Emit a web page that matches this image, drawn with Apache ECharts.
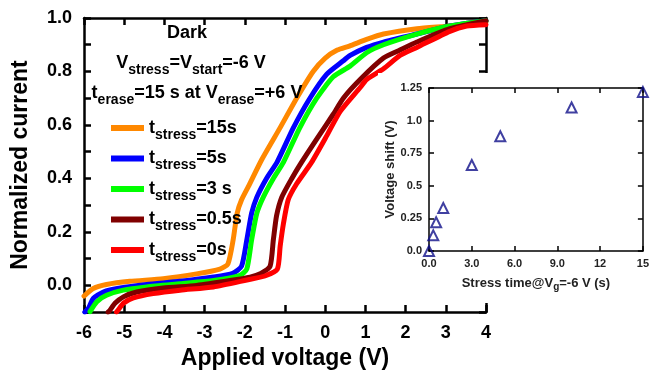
<!DOCTYPE html>
<html><head><meta charset="utf-8">
<script src="https://cdn.jsdelivr.net/npm/echarts@6/dist/echarts.min.js"></script>
<style>html,body{margin:0;padding:0;background:#fff}#c{width:652px;height:375px}</style>
</head><body><div id="c"></div>
<script>
// ---- data ----
const stressLabels = ['15s', '5s', '3 s', '0.5s', '0s'];
const curve15s = [[-6.0,-0.04],[-5.77,-0.012],[-5.44,0.003],[-4.86,0.015],[-4.03,0.025],[-3.2,0.043],[-2.62,0.061],[-2.42,0.08],[-2.29,0.17],[-2.19,0.27],[-2.08,0.32],[-1.91,0.37],[-1.58,0.47],[-1.12,0.59],[-0.71,0.70],[-0.30,0.80],[0.0,0.85],[0.3,0.88],[0.6,0.895],[1.03,0.92],[1.45,0.94],[2.28,0.96],[3.1,0.97],[4.0,0.985]];
const curve5s = [[-5.98,-0.1],[-5.89,-0.086],[-5.77,-0.049],[-5.52,-0.025],[-5.1,-0.01],[-4.44,0.003],[-3.61,0.015],[-2.78,0.031],[-2.3,0.045],[-2.08,0.072],[-1.95,0.17],[-1.83,0.27],[-1.70,0.33],[-1.46,0.40],[-1.2,0.46],[-0.79,0.59],[-0.38,0.70],[0.04,0.79],[0.45,0.84],[0.62,0.86],[1.03,0.89],[1.45,0.91],[2.28,0.94],[3.1,0.97],[4.0,0.99]];
const curve3s = [[-5.85,-0.098],[-5.68,-0.061],[-5.44,-0.037],[-5.02,-0.018],[-4.44,-0.006],[-3.61,0.006],[-2.78,0.018],[-2.12,0.037],[-1.95,0.061],[-1.83,0.17],[-1.70,0.27],[-1.54,0.33],[-1.29,0.40],[-1.04,0.46],[-0.63,0.59],[-0.21,0.70],[0.2,0.78],[0.62,0.82],[1.03,0.87],[1.45,0.90],[2.28,0.94],[3.1,0.97],[4.0,0.99]];
const curve05s = [[-5.40,-0.1],[-5.35,-0.092],[-5.23,-0.067],[-5.02,-0.043],[-4.69,-0.025],[-4.03,-0.01],[-3.2,0.0],[-2.37,0.018],[-1.87,0.031],[-1.6,0.045],[-1.37,0.072],[-1.29,0.17],[-1.21,0.26],[-1.08,0.33],[-0.83,0.40],[-0.59,0.46],[-0.2,0.55],[0.2,0.64],[0.45,0.70],[0.87,0.77],[1.45,0.85],[1.86,0.88],[2.28,0.91],[3.1,0.96],[4.0,0.99]];
const curve0s = [[-5.19,-0.1],[-5.15,-0.092],[-5.02,-0.067],[-4.77,-0.047],[-4.28,-0.031],[-3.61,-0.018],[-2.78,-0.006],[-1.95,0.02],[-1.5,0.035],[-1.19,0.061],[-1.12,0.147],[-1.04,0.23],[-0.92,0.32],[-0.71,0.38],[-0.34,0.46],[0.04,0.56],[0.37,0.65],[0.87,0.74],[1.03,0.77],[1.45,0.81],[1.86,0.86],[2.28,0.89],[3.1,0.95],[3.52,0.97],[4.0,0.975]];
const stressTime = [0, 0.3, 0.5, 1, 3, 5, 10, 15];
const voltageShift = [0, 0.12, 0.22, 0.33, 0.66, 0.88, 1.10, 1.22];

// ---- chart ----
const F = '"Liberation Sans", Arial, sans-serif';
const colors = ['#ff8800', '#0000ff', '#00ff00', '#800000', '#ff0000'];
const curves = [curve15s, curve5s, curve3s, curve05s, curve0s];
const rich = {
  m: {fontSize: 18, fontWeight: 'bold', fontFamily: F, color: '#000', lineHeight: 30, verticalAlign: 'middle'},
  s: {fontSize: 14, fontWeight: 'bold', fontFamily: F, color: '#000', lineHeight: 14, padding: [14, 0, 0, 0], verticalAlign: 'middle'}
};
const chart = echarts.init(document.getElementById('c'), null, {renderer: 'canvas'});
const axLine = {onZero: false, lineStyle: {color: '#000', width: 2.5}};
const axTick = {inside: true, length: 7, lineStyle: {color: '#000', width: 2.5}};
const inLine = {onZero: false, lineStyle: {color: '#000', width: 1.5}};
const inTick = {inside: true, length: 5, lineStyle: {color: '#000', width: 1.5}};
const inLabel = {fontSize: 11, fontWeight: 'bold', fontFamily: F, color: '#222', margin: 7};

const seriesList = curves.map((d, i) => ({
  name: 'tstress=' + stressLabels[i], type: 'line', xAxisIndex: 0, yAxisIndex: 0,
  data: d, showSymbol: false, symbol: 'none', smooth: 0.2,
  lineStyle: {width: 5, color: colors[i], join: 'round', cap: 'round'}, itemStyle: {color: colors[i]}, z: 2
}));
seriesList.push({
  name: 'shift', type: 'scatter', xAxisIndex: 2, yAxisIndex: 2,
  data: stressTime.map((t, i) => [t, voltageShift[i]]),
  symbol: 'triangle', symbolSize: 10,
  itemStyle: {color: 'rgba(255,255,255,0)', borderColor: '#10108a', borderWidth: 2}, z: 60
});

chart.setOption({
  animation: false,
  backgroundColor: '#fff',
  grid: [
    {left: 84, top: 18, width: 402, height: 299},
    {left: 429, top: 88, width: 221, height: 163}
  ],
  legend: {
    data: seriesList.slice(0, 5).map(s => s.name),
    orient: 'vertical', left: 106, top: 109, itemGap: 2.5,
    icon: 'rect', itemWidth: 33, itemHeight: 6,
    formatter: name => '{m|t}{s|stress}{m|=' + name.split('=')[1] + '}',
    textStyle: {rich: rich, padding: [0, 0, 0, 0]}
  },
  xAxis: [
    {gridIndex: 0, type: 'value', min: -6, max: 4, interval: 1, position: 'bottom',
     axisLine: axLine, axisTick: axTick, splitLine: {show: false},
     axisLabel: {fontSize: 18, fontWeight: 'bold', fontFamily: F, color: '#000', margin: 12},
     name: 'Applied voltage (V)', nameLocation: 'middle', nameGap: 34,
     nameTextStyle: {fontSize: 23, fontWeight: 'bold', fontFamily: F, color: '#000'}},
    {gridIndex: 0, type: 'value', min: -6, max: 4, interval: 1, position: 'top',
     axisLine: axLine, axisTick: axTick, splitLine: {show: false}, axisLabel: {show: false}},
    {gridIndex: 1, type: 'value', min: 0, max: 15, interval: 3, position: 'bottom',
     axisLine: inLine, axisTick: inTick, splitLine: {show: false}, z: 60,
     axisLabel: Object.assign({}, inLabel, {formatter: v => v < 10 ? v.toFixed(1) : String(v)}),
     name: '{m|Stress time@V}{s|g}{m|=-6 V (s)}', nameLocation: 'middle', nameGap: 22,
     nameTextStyle: {rich: {
       m: {fontSize: 13, fontWeight: 'bold', fontFamily: F, color: '#222', lineHeight: 20, verticalAlign: 'middle'},
       s: {fontSize: 10, fontWeight: 'bold', fontFamily: F, color: '#222', lineHeight: 10, padding: [9, 0, 0, 0], verticalAlign: 'middle'}
     }}},
    {gridIndex: 1, type: 'value', min: 0, max: 15, interval: 3, position: 'top', z: 60,
     axisLine: inLine, axisTick: inTick, splitLine: {show: false}, axisLabel: {show: false}}
  ],
  yAxis: [
    {gridIndex: 0, type: 'value', min: -0.1, max: 1.0, interval: 0.1, position: 'left',
     axisLine: axLine, axisTick: axTick, splitLine: {show: false},
     axisLabel: {fontSize: 18, fontWeight: 'bold', fontFamily: F, color: '#000', margin: 12,
       formatter: v => (Math.round(v * 10) % 2 === 0) ? v.toFixed(1) : ''},
     name: 'Normalized current', nameLocation: 'middle', nameGap: 52,
     nameTextStyle: {fontSize: 23, fontWeight: 'bold', fontFamily: F, color: '#000'}},
    {gridIndex: 0, type: 'value', min: -0.1, max: 1.0, interval: 0.1, position: 'right',
     axisLine: axLine, axisTick: axTick, splitLine: {show: false}, axisLabel: {show: false}},
    {gridIndex: 1, type: 'value', min: 0, max: 1.25, interval: 0.25, position: 'left', z: 60,
     axisLine: inLine, axisTick: inTick, splitLine: {show: false},
     axisLabel: Object.assign({}, inLabel, {formatter: v => (Math.round(v * 4) % 2 === 1) ? String(v) : v.toFixed(1)}),
     name: 'Voltage shift (V)', nameLocation: 'middle', nameGap: 32,
     nameTextStyle: {fontSize: 13, fontWeight: 'bold', fontFamily: F, color: '#222'}},
    {gridIndex: 1, type: 'value', min: 0, max: 1.25, interval: 0.25, position: 'right', z: 60,
     axisLine: inLine, axisTick: inTick, splitLine: {show: false}, axisLabel: {show: false}}
  ],
  graphic: [
    {type: 'rect', z: 50, shape: {x: 378, y: 73, width: 274, height: 230}, style: {fill: '#fff'}},
    {type: 'text', z: 10, style: {text: 'Dark', x: 187, y: 33, align: 'center', verticalAlign: 'middle',
      fontSize: 18, fontWeight: 'bold', fontFamily: F, fill: '#000'}},
    {type: 'text', z: 10, style: {text: '{m|V}{s|stress}{m|=V}{s|start}{m|=-6 V}', rich: rich,
      x: 191, y: 63, align: 'center', verticalAlign: 'middle'}},
    {type: 'text', z: 10, style: {text: '{m|t}{s|erase}{m|=15 s at V}{s|erase}{m|=+6 V}', rich: rich,
      x: 197, y: 93, align: 'center', verticalAlign: 'middle'}}
  ],
  series: seriesList
});
</script></body></html>
